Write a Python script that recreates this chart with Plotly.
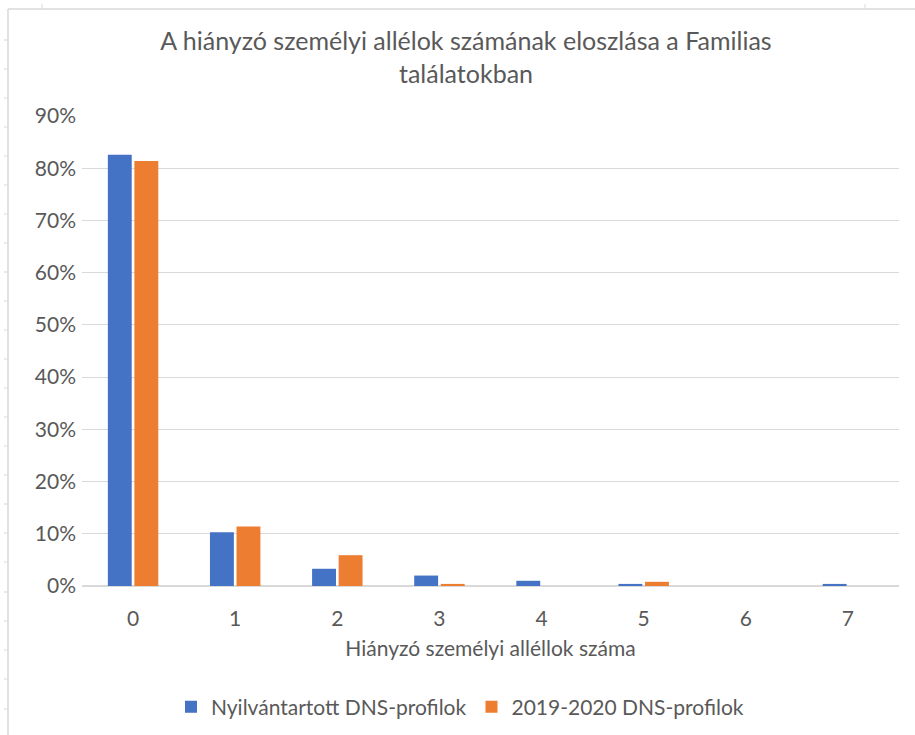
import plotly.graph_objects as go

# Number of missing personal alleles per Familias match
categories = ["0", "1", "2", "3", "4", "5", "6", "7"]
registered = [0.826, 0.103, 0.033, 0.020, 0.010, 0.004, 0.0, 0.004]
recent = [0.814, 0.114, 0.059, 0.004, 0.0, 0.008, 0.0, 0.0]
series_names = ["Nyilvántartott DNS-profilok", "2019-2020 DNS-profilok"]
y_ticks = [0, 0.1, 0.2, 0.3, 0.4, 0.5, 0.6, 0.7, 0.8, 0.9]

FONT = "Lato"
TEXT = "#595959"
GRID = "#d9d9d9"

fig = go.Figure()
fig.add_bar(x=categories, y=registered, name=series_names[0],
            marker=dict(color="#4472C4", line=dict(width=0)))
fig.add_bar(x=categories, y=recent, name=series_names[1],
            marker=dict(color="#ED7D31", line=dict(width=0)))

L, R, T, B = 82, 16, 116, 149
W, H = 915, 735
pw, ph = W - L - R, H - T - B


def px(x):
    return (x - L) / pw


def py(y):
    return (H - B - y) / ph


# chart-area frame and cell markers along its edges
shapes = [
    dict(type="line", xref="paper", yref="paper", x0=px(8), x1=px(915), y0=py(9), y1=py(9),
         line=dict(color=GRID, width=1.5)),
    dict(type="line", xref="paper", yref="paper", x0=px(8), x1=px(8), y0=py(9), y1=py(735),
         line=dict(color=GRID, width=1.5)),
]
for yy in [40, 69, 98, 127, 156, 185, 214, 243, 272, 301, 330, 359, 388, 417, 446,
           475, 504, 533, 562, 592, 621, 650, 679, 709]:
    shapes.append(dict(type="line", xref="paper", yref="paper", x0=px(4), x1=px(8),
                       y0=py(yy), y1=py(yy), line=dict(color=GRID, width=1)))
for xx in [42, 865]:
    shapes.append(dict(type="line", xref="paper", yref="paper", x0=px(xx), x1=px(xx),
                       y0=py(4), y1=py(9), line=dict(color=GRID, width=1)))

fig.update_layout(
    width=W, height=H,
    margin=dict(l=L, r=R, t=T, b=B, autoexpand=False),
    paper_bgcolor="white", plot_bgcolor="white",
    font=dict(family=FONT, color=TEXT, size=21),
    barmode="group", bargap=0.48, bargroupgap=0.1,
    title=dict(text="A hiányzó személyi allélok számának eloszlása a Familias<br>találatokban",
               x=(466 - L) / pw, xref="paper", xanchor="center",
               y=(H - 50) / H, yanchor="middle", yref="container",
               font=dict(family=FONT, size=25, color=TEXT)),
    xaxis=dict(
        range=[-0.5, 7.5], showgrid=False, showline=False, ticks="",
        automargin=False,
        tickfont=dict(size=21, color=TEXT), ticklabelstandoff=18,
        title=dict(text="Hiányzó személyi alléllok száma", standoff=12,
                   font=dict(size=21, color=TEXT)),
    ),
    yaxis=dict(
        range=[0, 0.9], tickvals=y_ticks, tickformat=".0%",
        showgrid=True, gridcolor=GRID, gridwidth=1,
        zeroline=True, zerolinecolor=GRID, zerolinewidth=1.5,
        showline=False, ticks="", ticklabelstandoff=5, automargin=False,
        tickfont=dict(size=21, color=TEXT),
    ),
    legend=dict(orientation="h", x=(460 - L) / pw, xanchor="center",
                y=py(707), yanchor="middle", font=dict(size=21, color=TEXT),
                itemwidth=30, traceorder="normal"),
    shapes=shapes,
)

fig.write_html("out.html")
